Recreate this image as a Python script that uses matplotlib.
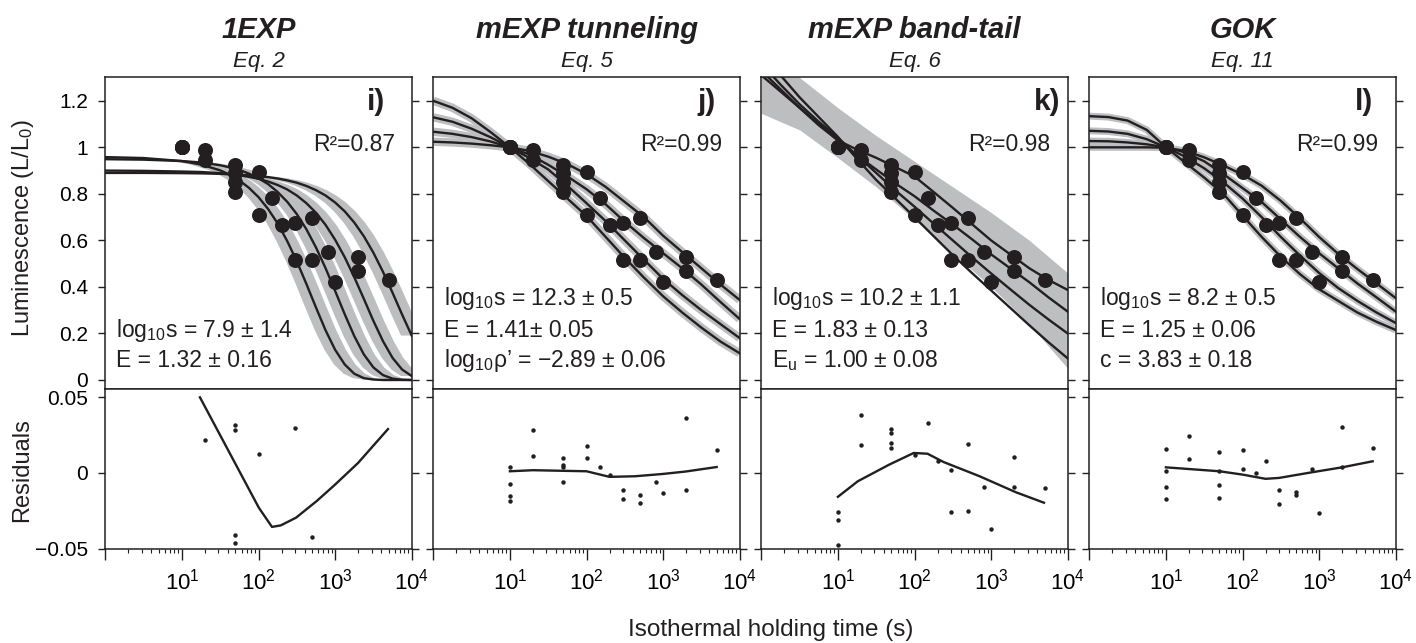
import matplotlib
matplotlib.use('Agg')
import matplotlib.pyplot as plt
from matplotlib.ticker import FixedLocator, FixedFormatter, LogLocator, NullFormatter

plt.rcParams['font.family'] = ['Liberation Sans', 'DejaVu Sans']
plt.rcParams['mathtext.fontset'] = 'custom'
plt.rcParams['mathtext.rm'] = 'Liberation Sans'
plt.rcParams['mathtext.it'] = 'Liberation Sans:italic'
plt.rcParams['mathtext.bf'] = 'Liberation Sans:bold'
plt.rcParams['mathtext.default'] = 'regular'

# ---------------- data ----------------
titles = ['1EXP', 'mEXP tunneling', 'mEXP band-tail', 'GOK']
equations = ['Eq. 2', 'Eq. 5', 'Eq. 6', 'Eq. 11']
letters = ['i)', 'j)', 'k)', 'l)']
r2_labels = ['R\u00b2=0.87', 'R\u00b2=0.99', 'R\u00b2=0.98', 'R\u00b2=0.99']
param_text = [
    [r'log$_{10}$s = 7.9 ± 1.4', 'E = 1.32 ± 0.16'],
    [r'log$_{10}$s = 12.3 ± 0.5', 'E = 1.41± 0.05', r'log$_{10}$ρ’ = −2.89 ± 0.06'],
    [r'log$_{10}$s = 10.2 ± 1.1', 'E = 1.83 ± 0.13', r'E$_{u}$ = 1.00 ± 0.08'],
    [r'log$_{10}$s = 8.2 ± 0.5', 'E = 1.25 ± 0.06', 'c = 3.83 ± 0.18'],
]

# measured luminescence (L/L0) vs holding time (s)
obs_t = [10, 10, 10, 10, 20, 20, 50, 50, 50, 50, 100, 100, 150, 200, 300, 300,
         500, 500, 800, 1000, 2000, 2000, 5000]
obs_L = [1.0, 1.0, 1.0, 1.0, 0.988, 0.945, 0.924, 0.888, 0.852, 0.809, 0.895, 0.709,
         0.781, 0.666, 0.673, 0.516, 0.695, 0.516, 0.551, 0.422, 0.527, 0.47, 0.43]

# 1EXP fitted curves
exp1_t = [1, 3.162, 10, 17.78, 31.62, 42.17, 56.23, 74.99, 100, 133.4, 177.8, 237.1,
          316.2, 421.7, 562.3, 749.9, 1000, 1334, 1778, 2371, 3162, 4217, 5623,
          7499, 10000]
exp1_curves = [
    [0.958, 0.954, 0.941, 0.926, 0.901, 0.882, 0.858, 0.826, 0.786, 0.735, 0.673,
     0.597, 0.510, 0.413, 0.312, 0.214, 0.130, 0.067, 0.027, 0.008, 0.002, 0.0,
     0.0, 0.0, 0.0],
    [0.949, 0.947, 0.941, 0.935, 0.923, 0.914, 0.903, 0.887, 0.867, 0.842, 0.808,
     0.766, 0.713, 0.648, 0.570, 0.481, 0.383, 0.283, 0.189, 0.110, 0.054, 0.021,
     0.006, 0.001, 0.0],
    [0.900, 0.899, 0.896, 0.894, 0.889, 0.885, 0.880, 0.873, 0.865, 0.853, 0.838,
     0.819, 0.793, 0.760, 0.719, 0.667, 0.603, 0.528, 0.442, 0.349, 0.254, 0.167,
     0.095, 0.045, 0.017],
    [0.890, 0.890, 0.889, 0.888, 0.886, 0.884, 0.882, 0.880, 0.876, 0.872, 0.866,
     0.858, 0.848, 0.834, 0.816, 0.793, 0.763, 0.725, 0.677, 0.618, 0.547, 0.465,
     0.375, 0.281, 0.191],
]

# other fitted curves
curve_t = [1, 1.778, 3.162, 5.623, 10, 17.78, 31.62, 56.23, 100, 177.8, 316.2,
           562.3, 1000, 1778, 3162, 5623, 10000]

tun_curves = [
    [1.024, 1.021, 1.016, 1.009, 1.0, 0.985, 0.960, 0.928, 0.885, 0.830, 0.765,
     0.700, 0.620, 0.550, 0.480, 0.410, 0.344],
    [1.067, 1.058, 1.044, 1.025, 1.0, 0.970, 0.925, 0.875, 0.820, 0.755, 0.680,
     0.610, 0.545, 0.480, 0.410, 0.335, 0.262],
    [1.129, 1.110, 1.080, 1.043, 1.0, 0.955, 0.905, 0.835, 0.760, 0.683, 0.600,
     0.517, 0.435, 0.365, 0.300, 0.240, 0.180],
    [1.200, 1.170, 1.125, 1.065, 1.0, 0.930, 0.855, 0.780, 0.705, 0.615, 0.525,
     0.440, 0.360, 0.290, 0.225, 0.165, 0.115],
]

bt_curves = [
    [1.31, 1.24, 1.17, 1.10, 1.03, 0.99, 0.955, 0.915, 0.875, 0.808, 0.74, 0.67,
     0.60, 0.54, 0.48, 0.43, 0.387],
    [1.33, 1.25, 1.17, 1.095, 1.03, 0.965, 0.905, 0.845, 0.79, 0.728, 0.668, 0.605,
     0.54, 0.48, 0.42, 0.355, 0.294],
    [1.36, 1.27, 1.185, 1.11, 1.04, 0.965, 0.89, 0.815, 0.745, 0.672, 0.60, 0.528,
     0.458, 0.39, 0.323, 0.26, 0.20],
    [1.40, 1.31, 1.215, 1.13, 1.045, 0.95, 0.86, 0.78, 0.70, 0.618, 0.537, 0.46,
     0.385, 0.31, 0.235, 0.162, 0.093],
]
bt_band_t = [1, 3.162, 10, 31.62, 100, 316.2, 1000, 3162, 10000]
bt_band_hi = [1.45, 1.30, 1.17, 1.05, 0.94, 0.83, 0.72, 0.60, 0.46]
bt_band_lo = [1.146, 1.075, 0.955, 0.83, 0.69, 0.545, 0.40, 0.24, 0.05]

gok_curves = [
    [1.0, 1.0, 1.0, 1.0, 0.998, 0.985, 0.957, 0.922, 0.883, 0.835, 0.770, 0.695,
     0.615, 0.542, 0.477, 0.415, 0.352],
    [1.027, 1.026, 1.021, 1.013, 1.0, 0.978, 0.940, 0.885, 0.825, 0.765, 0.690,
     0.615, 0.545, 0.480, 0.415, 0.355, 0.294],
    [1.071, 1.068, 1.058, 1.035, 1.0, 0.960, 0.910, 0.850, 0.780, 0.700, 0.615,
     0.535, 0.460, 0.395, 0.340, 0.290, 0.245],
    [1.134, 1.130, 1.115, 1.075, 1.0, 0.935, 0.870, 0.800, 0.707, 0.615, 0.530,
     0.455, 0.390, 0.340, 0.290, 0.250, 0.215],
]

# residuals
res_t_1exp = [20, 50, 50, 50, 50, 100, 300, 500]
res_1exp = [0.0219, 0.0318, 0.0285, -0.0412, -0.0465, 0.0127, 0.0296, -0.0425]
res_line_t_1exp = [17.2, 101, 150, 195, 309, 575, 1000, 1995, 4900]
res_line_1exp = [0.05, -0.023, -0.0357, -0.0347, -0.0296, -0.0186, -0.0077, 0.0066, 0.029]

res_t_tun = [10, 10, 10, 10, 20, 20, 50, 50, 50, 50, 100, 100, 150, 200, 300, 300,
             500, 500, 800, 1000, 2000, 2000, 5000]
res_tun = [0.0039, -0.0072, -0.0154, -0.0186, 0.0285, 0.011, 0.0099, 0.0055, 0.0039,
           -0.0059, 0.018, 0.0096, 0.0037, -0.0011, -0.011, -0.0175, -0.0143, -0.0197,
           -0.0059, -0.0132, 0.0362, -0.011, 0.0154]
res_line_t_tun = [10, 20, 100, 200, 430, 980, 1950, 5000]
res_line_tun = [0.0011, 0.0018, 0.0011, -0.0026, -0.0022, -0.0007, 0.0009, 0.0039]

res_t_bt = [10, 10, 10, 20, 20, 50, 50, 50, 50, 100, 150, 200, 300, 300, 500, 500,
            800, 1000, 2000, 2000, 5000]
res_bt = [-0.0259, -0.0311, -0.0476, 0.0384, 0.0186, 0.029, 0.0263, 0.0197, 0.0167,
          0.0116, 0.0329, 0.0077, 0.0022, -0.0257, 0.0191, -0.0254, -0.0094, -0.0368,
          0.0103, -0.009, -0.0101]
res_line_t_bt = [10, 18.2, 46.8, 97.7, 148, 240, 708, 2089, 4900]
res_line_bt = [-0.0158, -0.0055, 0.0055, 0.0132, 0.0127, 0.0072, -0.0022, -0.0127, -0.0197]

res_t_gok = [10, 10, 10, 10, 20, 20, 50, 50, 50, 50, 100, 100, 150, 200, 300, 300,
             500, 500, 800, 1000, 2000, 2000, 5000]
res_gok = [0.016, 0.0011, -0.0094, -0.0175, 0.0246, 0.0092, 0.0136, 0.0011, -0.0081,
           -0.0167, 0.0149, 0.0026, 0.0, 0.0077, -0.0116, -0.0204, -0.0127, -0.0143,
           0.0026, -0.0268, 0.0305, 0.0037, 0.0164]
res_line_t_gok = [10, 50, 100, 200, 300, 800, 2000, 5000]
res_line_gok = [0.0037, 0.0011, -0.0011, -0.0039, -0.0033, 0.0004, 0.0037, 0.0077]

top_yticks = [0, 0.2, 0.4, 0.6, 0.8, 1.0, 1.2]
top_yticklabels = ['0', '0.2', '0.4', '0.6', '0.8', '1', '1.2']
res_yticks = [-0.05, 0, 0.05]
res_yticklabels = ['\u22120.05', '0', '0.05']
xticks = [1, 10, 100, 1000, 10000]
xticklabels = ['', r'$10^{1}$', r'$10^{2}$', r'$10^{3}$', r'$10^{4}$']

# ---------------- styling / layout ----------------
W, H = 1416, 643
BLACK = '#231f20'
GRAY = '#bdbec0'
fig = plt.figure(figsize=(W / 100, H / 100), dpi=100)

lefts_px = [105.3, 433.3, 761.3, 1089.3]
width_px = 306.4
top_top, top_bot = 77.3, 389.0
res_bot = 549.3
letter_x = [0.884, 0.893, 0.932, 0.898]
EXP1_BAND_DEC = 0.14

def fx(px):
    return px / W

def fy(py):
    return 1 - py / H

res_sets = [
    (res_t_1exp, res_1exp, res_line_t_1exp, res_line_1exp),
    (res_t_tun, res_tun, res_line_t_tun, res_line_tun),
    (res_t_bt, res_bt, res_line_t_bt, res_line_bt),
    (res_t_gok, res_gok, res_line_t_gok, res_line_gok),
]

for i in range(4):
    ax = fig.add_axes([fx(lefts_px[i]), fy(top_bot), fx(width_px), (top_bot - top_top) / H])
    axr = fig.add_axes([fx(lefts_px[i]), fy(res_bot), fx(width_px), (res_bot - top_bot) / H])
    for a in (ax, axr):
        a.set_xscale('log')
        a.set_xlim(1, 1e4)
        for s in a.spines.values():
            s.set_linewidth(1.1)
            s.set_color(BLACK)
    ax.set_ylim(-0.0387, 1.301)
    axr.set_ylim(-0.0505, 0.0555)

    # gray uncertainty + curves
    if i == 0:
        shift = 10 ** EXP1_BAND_DEC
        for c in exp1_curves:
            xl = [t / shift for t in exp1_t]
            xr = [t * shift for t in exp1_t]
            ax.fill(xl + xr[::-1], c + c[::-1], color=GRAY, lw=0, zorder=1)
        for c in exp1_curves:
            ax.plot(exp1_t, c, color=BLACK, lw=1.7, zorder=3)
    elif i == 1:
        for c in tun_curves:
            ax.plot(curve_t, c, color=GRAY, lw=6, zorder=1, solid_capstyle='butt')
        for c in tun_curves:
            ax.plot(curve_t, c, color=BLACK, lw=1.7, zorder=3)
    elif i == 2:
        ax.fill_between(bt_band_t, bt_band_lo, bt_band_hi, color=GRAY, lw=0, zorder=1)
        for c in bt_curves:
            ax.plot(curve_t, c, color=BLACK, lw=1.7, zorder=3)
    else:
        for c in gok_curves:
            ax.plot(curve_t, c, color=GRAY, lw=5, zorder=1, solid_capstyle='butt')
        for c in gok_curves:
            ax.plot(curve_t, c, color=BLACK, lw=1.7, zorder=3)

    ax.plot(obs_t, obs_L, 'o', color=BLACK, ms=10.8, mec='none', zorder=4)

    # ticks top
    ax.set_yticks(top_yticks)
    ax.set_yticklabels(top_yticklabels if i == 0 else [''] * len(top_yticks))
    ax.tick_params(axis='y', which='both', left=True, right=True, direction='out',
                   length=4.8, width=1.0, color=BLACK, labelsize=15, pad=7.5,
                   labelleft=(i == 0), labelright=False)
    ax.tick_params(axis='x', which='both', bottom=False, top=False,
                   labelbottom=False)

    # residuals
    rt, rv, lt, lv = res_sets[i]
    axr.plot(rt, rv, 'o', color=BLACK, ms=3.2, mec='none', zorder=4)
    axr.plot(lt, lv, color=BLACK, lw=1.7, zorder=3)
    axr.set_yticks(res_yticks)
    axr.set_yticklabels(res_yticklabels if i == 0 else [''] * 3)
    axr.tick_params(axis='y', which='both', left=True, right=True, direction='out',
                    length=4.8, width=1.0, color=BLACK, labelsize=15, pad=7.5,
                    labelleft=(i == 0), labelright=False)
    axr.xaxis.set_major_locator(FixedLocator(xticks))
    axr.xaxis.set_major_formatter(FixedFormatter(xticklabels))
    axr.xaxis.set_minor_locator(LogLocator(base=10, subs=range(2, 10), numticks=20))
    axr.xaxis.set_minor_formatter(NullFormatter())
    axr.tick_params(axis='x', which='major', direction='out', length=8, width=1.0,
                    color=BLACK, labelsize=16, pad=6)
    axr.tick_params(axis='x', which='minor', direction='out', length=3, width=0.8,
                    color=BLACK)

    # texts
    ax.text(letter_x[i], 0.895, letters[i], transform=ax.transAxes, ha='center',
            va='baseline', fontsize=21.5, fontweight='bold', color=BLACK)
    ax.text(0.9445, 0.7645, r2_labels[i], transform=ax.transAxes, ha='right',
            va='baseline', fontsize=16.5, color=BLACK)
    lines = param_text[i]
    ys = [0.268, 0.167, 0.0706][-len(lines):]
    for txt, yy in zip(lines, ys):
        ax.text(0.036, yy, txt, transform=ax.transAxes, ha='left', va='baseline',
                fontsize=16.5, color=BLACK)

    cx = fx(lefts_px[i] + width_px / 2)
    fig.text(cx, fy(37.7), titles[i], ha='center', va='baseline', fontsize=21,
             fontweight='bold', fontstyle='italic', color=BLACK)
    fig.text(cx, fy(66.7), equations[i], ha='center', va='baseline', fontsize=16,
             fontstyle='italic', color=BLACK)

fig.text(fx(23), fy(228), r'Luminescence (L/L$_{0}$)', rotation=90, ha='center',
         va='center', fontsize=17, color=BLACK)
fig.text(fx(22), fy(470), 'Residuals', rotation=90, ha='center', va='center',
         fontsize=17, color=BLACK)
fig.text(fx(771), fy(636), 'Isothermal holding time (s)', ha='center',
         va='baseline', fontsize=17.5, color=BLACK)

fig.savefig('out.png', dpi=100)
